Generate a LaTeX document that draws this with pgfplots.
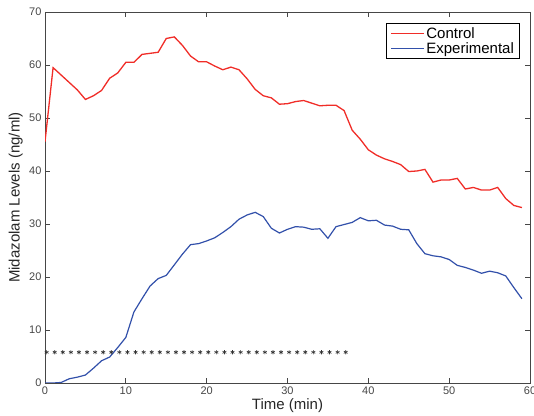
\documentclass[border=0pt]{standalone}
\usepackage{pgfplots}
\pgfplotsset{compat=1.18}
\usepackage{fontspec}
\setmainfont{Liberation Sans}
\definecolor{cred}{RGB}{240,45,40}
\definecolor{cblue}{RGB}{50,80,170}
\definecolor{axgray}{RGB}{70,70,70}
\begin{document}
\begin{tikzpicture}
\begin{axis}[
  name=ax,
  scale only axis,
  width=485pt, height=371pt,
  xmin=0, xmax=60, ymin=0, ymax=70,
  xtick={0,10,...,60}, ytick={0,10,...,70},
  tick align=inside,
  major tick length=5pt,
  axis line style={axgray, line width=0.8pt},
  every tick/.style={axgray, line width=0.8pt},
  tick label style={font=\fontsize{11}{13}\selectfont, text=axgray},
  /pgf/number format/assume math mode=true,
  xlabel={Time (min)},
  ylabel={Midazolam Levels (ng/ml)},
  label style={font=\fontsize{15}{17}\selectfont, text=black!85, inner sep=0pt},
  xlabel style={at={([yshift=-15pt]rel axis cs:0.5,0)}, anchor=north},
  ylabel style={at={([xshift=-22pt]rel axis cs:0,0.5)}, anchor=south},
  legend style={at={(0.979,0.970)}, anchor=north east, draw=black, line width=0.8pt,
    fill=white, font=\fontsize{15}{17}\selectfont, inner xsep=4pt, inner ysep=2.2pt,
    row sep=0pt, nodes={inner sep=1.5pt}},
  legend cell align=left,
  legend image code/.code={\draw[#1, line width=1.4pt] (0pt,0pt) -- (33pt,0pt);},
]
\addplot[cred, line width=1.3pt] coordinates {
(0,45.5) (1,59.5) (2,58.1) (3,56.7) (4,55.3) (5,53.5) (6,54.2) (7,55.2) (8,57.5) (9,58.5)
(10,60.5) (11,60.5) (12,62.0) (13,62.2) (14,62.4) (15,65.0) (16,65.3) (17,63.7) (18,61.7) (19,60.6)
(20,60.6) (21,59.8) (22,59.1) (23,59.6) (24,59.1) (25,57.4) (26,55.4) (27,54.2) (28,53.8) (29,52.6)
(30,52.7) (31,53.1) (32,53.3) (33,52.8) (34,52.3) (35,52.4) (36,52.4) (37,51.4) (38,47.7) (39,46.0)
(40,44.0) (41,43.0) (42,42.3) (43,41.8) (44,41.2) (45,39.9) (46,40.0) (47,40.3) (48,37.9) (49,38.3)
(50,38.3) (51,38.6) (52,36.6) (53,36.9) (54,36.4) (55,36.4) (56,36.9) (57,34.8) (58,33.5) (59,33.1)
};
\addlegendentry{Control}
\addplot[cblue, line width=1.2pt] coordinates {
(0,0) (1,0) (2,0.1) (3,0.8) (4,1.1) (5,1.5) (6,2.8) (7,4.2) (8,4.9) (9,6.7)
(10,8.6) (11,13.4) (12,15.9) (13,18.3) (14,19.7) (15,20.3) (16,22.3) (17,24.3) (18,26.1) (19,26.3)
(20,26.8) (21,27.4) (22,28.4) (23,29.5) (24,30.9) (25,31.7) (26,32.2) (27,31.4) (28,29.2) (29,28.3)
(30,29.0) (31,29.5) (32,29.4) (33,29.0) (34,29.1) (35,27.3) (36,29.5) (37,29.9) (38,30.3) (39,31.2)
(40,30.6) (41,30.7) (42,29.8) (43,29.6) (44,29.0) (45,28.9) (46,26.3) (47,24.4) (48,24.0) (49,23.8)
(50,23.3) (51,22.2) (52,21.8) (53,21.3) (54,20.7) (55,21.1) (56,20.8) (57,20.2) (58,18.0) (59,15.9)
};
\addlegendentry{Experimental}
\addplot[only marks, mark=asterisk, mark size=2.2pt, black!80, mark options={line width=0.6pt}, forget plot] coordinates {
(0.2,5.8) (1.2,5.8) (2.2,5.8) (3.2,5.8) (4.2,5.8) (5.2,5.8) (6.2,5.8) (7.2,5.8) (8.2,5.8) (9.2,5.8)
(10.2,5.8) (11.2,5.8) (12.2,5.8) (13.2,5.8) (14.2,5.8) (15.2,5.8) (16.2,5.8) (17.2,5.8) (18.2,5.8) (19.2,5.8)
(20.2,5.8) (21.2,5.8) (22.2,5.8) (23.2,5.8) (24.2,5.8) (25.2,5.8) (26.2,5.8) (27.2,5.8) (28.2,5.8) (29.2,5.8)
(30.2,5.8) (31.2,5.8) (32.2,5.8) (33.2,5.8) (34.2,5.8) (35.2,5.8) (36.2,5.8) (37.2,5.8)
};
\end{axis}
\pgfresetboundingbox
\path[use as bounding box] ([xshift=-45pt,yshift=-33pt]ax.south west) rectangle ([xshift=4pt,yshift=12pt]ax.north east);
\end{tikzpicture}
\end{document}
